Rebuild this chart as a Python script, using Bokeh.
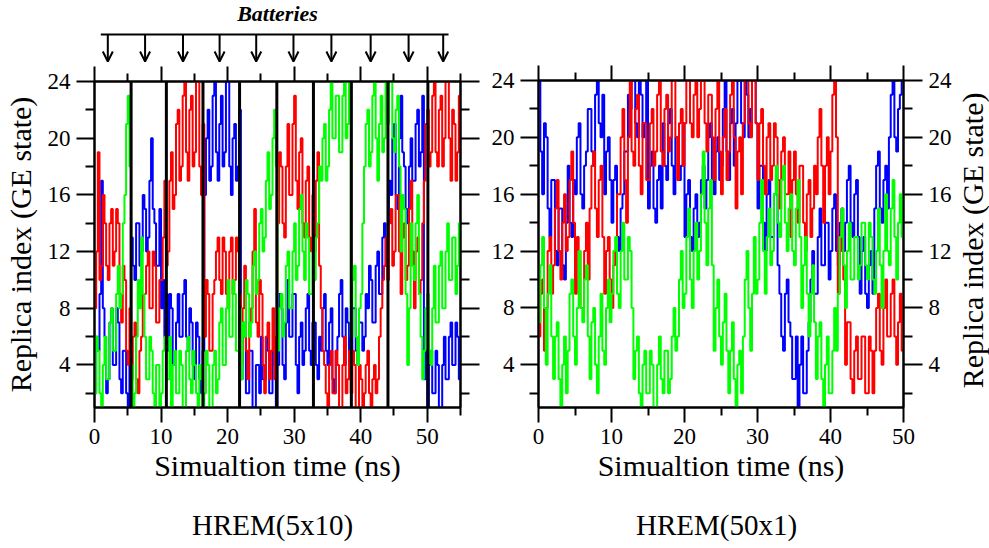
import numpy as np
from bokeh.plotting import figure
from bokeh.layouts import row, column
from bokeh.models import (LinearAxis, FixedTicker, Range1d, Span, Arrow,
                          OpenHead, Label, CustomLabelingPolicy)
from bokeh.embed import file_html
from bokeh.resources import INLINE

# ---------------- data ----------------
dt = 0.25  # ns between samples

# HREM(5x10): 10 batteries x 22 samples (0 .. 54.75 ns)
left_red = [8, 12, 19, 10, 11, 16, 14, 11, 10, 14, 15, 11, 12, 15, 14, 9, 7, 11, 10, 5, 4, 8,
            3, 6, 7, 3, 2, 5, 6, 9, 9, 11, 12, 8, 8, 12, 11, 7, 7, 10, 10, 13, 17, 11,
            12, 17, 19, 15, 16, 21, 22, 17, 18, 23, 24, 19, 17, 22, 23, 18, 19, 24, 24, 18, 16, 21,
            6, 10, 9, 5, 5, 9, 10, 12, 13, 10, 9, 13, 12, 9, 8, 12, 13, 9, 10, 13, 12, 9,
            4, 8, 11, 5, 3, 7, 8, 12, 15, 7, 6, 10, 9, 4, 2, 6, 7, 3, 5, 8, 3, 6,
            14, 19, 18, 14, 13, 18, 21, 16, 16, 21, 23, 17, 15, 19, 20, 14, 13, 17, 18, 13, 12, 16,
            12, 17, 19, 11, 8, 5, 4, 2, 1, 4, 5, 2, 2, 5, 4, 1, 1, 4, 6, 2, 3, 5,
            2, 5, 4, 1, 1, 4, 3, 1, 2, 4, 5, 2, 1, 3, 4, 2, 3, 6, 8, 10, 11, 13,
            10, 14, 15, 11, 12, 16, 16, 12, 9, 13, 14, 10, 11, 15, 17, 12, 8, 12, 13, 9, 10, 14,
            17, 21, 22, 18, 19, 23, 24, 19, 18, 22, 23, 18, 20, 24, 24, 20, 17, 22, 21, 17, 19, 23]
left_blue = [2, 6, 5, 9, 17, 8, 6, 2, 3, 7, 8, 4, 4, 8, 7, 3, 2, 5, 5, 2, 1, 4,
             13, 11, 10, 14, 14, 11, 12, 16, 15, 12, 13, 17, 20, 15, 14, 11, 11, 15, 8, 10, 6, 9,
             5, 9, 8, 4, 4, 7, 9, 6, 6, 9, 10, 6, 5, 8, 7, 4, 3, 7, 6, 3, 2, 5,
             16, 20, 22, 17, 18, 23, 24, 19, 17, 21, 23, 18, 19, 24, 24, 18, 16, 20, 21, 17, 18, 22,
             3, 7, 6, 2, 2, 5, 5, 1, 1, 4, 4, 2, 6, 3, 3, 6, 5, 2, 2, 5, 4, 1,
             4, 9, 8, 4, 3, 7, 10, 6, 6, 9, 9, 4, 2, 6, 7, 4, 5, 8, 9, 5, 4, 7,
             7, 4, 3, 6, 5, 8, 9, 5, 4, 7, 8, 3, 2, 5, 6, 9, 10, 6, 4, 8, 7, 4,
             5, 8, 8, 5, 4, 7, 7, 5, 6, 9, 8, 11, 10, 7, 7, 11, 12, 9, 9, 13, 14, 11,
             13, 17, 16, 20, 21, 16, 15, 20, 23, 19, 18, 15, 14, 18, 20, 17, 17, 21, 22, 18, 19, 23,
             3, 5, 1, 4, 5, 2, 2, 5, 4, 1, 1, 4, 6, 3, 3, 6, 7, 4, 4, 7, 6, 3]
left_green = [2, 6, 5, 2, 1, 4, 6, 3, 3, 7, 8, 5, 5, 9, 11, 8, 9, 14, 16, 21, 23, 18,
              4, 1, 2, 6, 10, 8, 13, 9, 6, 3, 3, 6, 5, 2, 1, 4, 4, 1, 2, 5, 6, 3,
              3, 6, 1, 4, 5, 2, 2, 5, 4, 1, 1, 5, 6, 3, 2, 5, 4, 2, 1, 4, 3, 1,
              2, 5, 4, 1, 1, 4, 5, 2, 3, 7, 8, 4, 4, 8, 10, 6, 6, 10, 9, 5, 5, 8,
              3, 7, 6, 10, 9, 6, 7, 11, 12, 9, 10, 14, 15, 12, 13, 17, 19, 15, 16, 20, 22, 18,
              5, 8, 9, 6, 7, 11, 12, 8, 8, 12, 14, 10, 11, 15, 16, 12, 10, 14, 13, 9, 9, 12,
              10, 13, 14, 18, 17, 20, 21, 17, 18, 22, 24, 20, 20, 23, 23, 19, 19, 23, 24, 20, 21, 24,
              6, 10, 11, 6, 4, 8, 9, 14, 18, 21, 22, 18, 19, 23, 24, 20, 17, 21, 23, 19, 20, 24,
              21, 24, 24, 20, 19, 22, 23, 18, 12, 16, 15, 9, 4, 8, 14, 11, 10, 14, 16, 9, 6, 3,
              5, 8, 9, 5, 4, 8, 11, 7, 7, 11, 12, 8, 8, 12, 14, 10, 10, 13, 13, 9, 11, 14]

# HREM(50x1): 200 samples (0 .. 49.75 ns)
right_blue = [24, 19, 16, 21, 20, 15, 13, 17, 17, 12, 11, 15, 15, 11, 10, 14, 18, 14, 13, 17,
              16, 20, 21, 16, 15, 18, 19, 22, 22, 19, 18, 23, 24, 21, 20, 23, 16, 19, 20, 17,
              14, 17, 18, 13, 12, 15, 16, 19, 19, 23, 22, 24, 24, 21, 20, 24, 23, 20, 21, 24,
              15, 18, 19, 15, 14, 17, 18, 15, 21, 18, 17, 21, 22, 18, 16, 20, 20, 17, 18, 21,
              13, 16, 17, 13, 12, 15, 16, 13, 14, 17, 18, 15, 17, 20, 21, 17, 16, 19, 20, 17,
              18, 22, 24, 19, 17, 21, 22, 18, 21, 24, 24, 21, 20, 24, 23, 20, 22, 24, 24, 21,
              15, 18, 18, 14, 12, 16, 17, 13, 13, 16, 16, 11, 9, 6, 5, 9, 10, 7, 6, 3,
              3, 6, 1, 4, 6, 2, 2, 5, 7, 10, 12, 9, 9, 13, 15, 11, 11, 14, 14, 10,
              12, 15, 16, 12, 11, 14, 15, 12, 14, 17, 18, 14, 13, 16, 17, 13, 9, 12, 13, 9,
              8, 11, 12, 9, 15, 18, 19, 15, 14, 17, 18, 15, 20, 23, 24, 20, 19, 22, 23, 24]
right_red = [6, 9, 10, 5, 8, 12, 13, 9, 11, 15, 17, 12, 10, 14, 16, 12, 13, 17, 19, 14,
             9, 13, 12, 8, 8, 12, 14, 10, 15, 18, 19, 15, 13, 17, 18, 13, 9, 12, 13, 10,
             8, 11, 12, 16, 16, 20, 22, 17, 14, 20, 24, 19, 18, 22, 23, 18, 16, 21, 21, 17,
             17, 21, 22, 18, 19, 23, 24, 19, 18, 22, 23, 19, 20, 24, 24, 20, 17, 21, 22, 18,
             21, 24, 24, 21, 20, 23, 24, 20, 22, 24, 24, 21, 19, 23, 23, 20, 17, 22, 24, 19,
             16, 20, 22, 17, 19, 23, 24, 20, 15, 19, 20, 16, 21, 24, 24, 21, 20, 24, 24, 21,
             17, 21, 22, 18, 16, 20, 21, 17, 18, 21, 20, 17, 15, 19, 20, 16, 16, 19, 13, 17,
             19, 16, 14, 18, 18, 14, 12, 16, 17, 13, 15, 18, 16, 20, 22, 18, 14, 18, 20, 16,
             19, 23, 24, 20, 9, 12, 14, 10, 4, 7, 7, 3, 2, 5, 6, 3, 3, 6, 6, 2,
             2, 6, 5, 2, 5, 8, 9, 5, 4, 8, 10, 6, 6, 9, 10, 6, 4, 7, 9, 5]
right_green = [7, 11, 13, 8, 4, 9, 11, 6, 3, 6, 7, 3, 1, 4, 6, 2, 5, 9, 10, 6,
               4, 8, 12, 8, 7, 10, 11, 6, 3, 7, 8, 4, 2, 6, 9, 5, 4, 8, 10, 7,
               9, 12, 13, 9, 8, 12, 14, 10, 10, 13, 12, 8, 3, 5, 6, 2, 1, 4, 5, 2,
               2, 5, 4, 1, 1, 4, 6, 3, 2, 5, 5, 2, 3, 6, 8, 5, 6, 10, 12, 8,
               9, 13, 15, 10, 8, 12, 14, 10, 12, 16, 19, 14, 11, 15, 17, 11, 5, 8, 10, 6,
               4, 7, 9, 5, 2, 5, 7, 3, 1, 4, 5, 2, 6, 10, 12, 8, 5, 9, 13, 9,
               10, 14, 17, 12, 9, 13, 15, 11, 12, 16, 18, 14, 13, 17, 18, 14, 12, 15, 16, 12,
               11, 15, 17, 13, 8, 11, 13, 9, 6, 9, 11, 7, 3, 6, 7, 3, 1, 4, 6, 2,
               2, 5, 8, 5, 9, 13, 15, 11, 8, 12, 14, 10, 10, 13, 13, 10, 11, 14, 14, 11,
               10, 14, 13, 10, 9, 12, 15, 11, 8, 12, 16, 12, 11, 15, 17, 13, 10, 14, 16, 13]

battery_bounds = [5.5, 10.8, 16.3, 21.8, 27.4, 32.9, 38.6, 44.1, 50.1]
arrow_times = [2.0, 7.6, 13.3, 18.8, 24.3, 29.9, 35.6, 41.5, 47.2, 52.4]
bracket_span = (0.95, 53.2)
panel_titles = ["HREM(5x10)", "HREM(50x1)"]

y_major = [4, 8, 12, 16, 20, 24]
y_minor = [2, 6, 10, 14, 18, 22]
x_major = [0, 10, 20, 30, 40, 50]

RED, BLUE, GREEN = "#ff0000", "#0000ff", "#00ff00"
FONT = "Liberation Serif"
TICK_FS = "23px"
LABEL_FS = "30px"
YLABEL = "Replica index (GE state)"

W, H = 989, 548
FOOT_H = 50          # strip holding the panel titles
HEADER_H = 62        # strip holding the "Batteries" header
MAIN_H = H - FOOT_H
FRAME_TOP, FRAME_BOTTOM = 80, 407
LEFT_W, RLABEL_W = 488, 34
RIGHT_W = W - LEFT_W - RLABEL_W

NO_LABELS = CustomLabelingPolicy(
    code="for (const i of indices) { indices.unset(i) }\nreturn indices")


def series(vals, t_end):
    t = list(np.arange(len(vals)) * dt) + [t_end]
    return t, list(vals) + [vals[-1]]


def style_axis(ax, major_out, minor_out, labels=True):
    ax.axis_line_width = 2
    ax.axis_line_color = "black"
    ax.major_tick_line_width = 2
    ax.minor_tick_line_width = 2
    ax.major_tick_in = 0
    ax.minor_tick_in = 0
    ax.major_tick_out = major_out
    ax.minor_tick_out = minor_out
    ax.major_label_text_font = FONT
    ax.major_label_text_color = "black"
    if labels:
        ax.major_label_text_font_size = TICK_FS
        ax.major_label_standoff = 6
    else:
        ax.major_label_text_font_size = "1px"
        ax.major_label_policy = NO_LABELS
        ax.major_label_standoff = 0


def make_panel(width, height, border_left, border_right, border_top, x_end,
               x_minor, data, y_title, right_labels):
    p = figure(width=width, height=height, output_backend="svg",
               toolbar_location=None, x_axis_location=None,
               y_axis_location=None,
               x_range=Range1d(0, x_end), y_range=Range1d(1, 24),
               min_border_left=border_left, min_border_right=border_right,
               min_border_top=border_top,
               min_border_bottom=MAIN_H - FRAME_BOTTOM)
    p.grid.visible = False
    p.outline_line_color = "black"
    p.outline_line_width = 2
    p.background_fill_color = "white"
    p.border_fill_color = "white"

    xt = FixedTicker(ticks=x_major, minor_ticks=x_minor)
    yt = FixedTicker(ticks=y_major, minor_ticks=y_minor)

    bottom = LinearAxis(ticker=xt, axis_label="Simualtion time (ns)")
    style_axis(bottom, 15, 8)
    bottom.axis_label_text_font = FONT
    bottom.axis_label_text_font_size = LABEL_FS
    bottom.axis_label_text_font_style = "normal"
    bottom.axis_label_text_color = "black"
    bottom.axis_label_standoff = 2
    p.add_layout(bottom, "below")

    top = LinearAxis(ticker=xt)
    style_axis(top, 15, 8, labels=False)
    p.add_layout(top, "above")

    left = LinearAxis(ticker=yt)
    style_axis(left, 18, 9)
    if y_title:
        left.axis_label = YLABEL
        left.axis_label_text_font = FONT
        left.axis_label_text_font_size = LABEL_FS
        left.axis_label_text_font_style = "normal"
        left.axis_label_text_color = "black"
        left.axis_label_standoff = 8
    p.add_layout(left, "left")

    right = LinearAxis(ticker=yt)
    style_axis(right, 19, 9, labels=right_labels)
    p.add_layout(right, "right")

    for vals, col in data:
        t, v = series(vals, x_end)
        p.step(t, v, mode="after", line_color=col, line_width=2.0)
    return p


def strip(width, height, x_range, y_range, border_left=0, border_right=0):
    s = figure(width=width, height=height, output_backend="svg",
               toolbar_location=None, x_range=x_range, y_range=y_range,
               min_border_left=border_left, min_border_right=border_right,
               min_border_top=0, min_border_bottom=0,
               x_axis_location=None, y_axis_location=None)
    s.grid.visible = False
    s.outline_line_color = None
    return s


p1 = make_panel(LEFT_W, MAIN_H - HEADER_H, 93, 28, FRAME_TOP - HEADER_H, 55,
                [5, 15, 25, 35, 45, 55],
                [(left_blue, BLUE), (left_red, RED), (left_green, GREEN)],
                True, False)
for b in battery_bounds:
    p1.add_layout(Span(location=b, dimension="height", line_color="black",
                       line_width=3))

# header strip above the left panel (shares its time axis)
hdr = strip(LEFT_W, HEADER_H, p1.x_range, Range1d(HEADER_H, 0), 93, 28)
hdr.segment(x0=[bracket_span[0]], x1=[bracket_span[1]], y0=[34], y1=[34],
            line_color="black", line_width=2)
for a in arrow_times:
    hdr.add_layout(Arrow(end=OpenHead(size=10, line_width=2,
                                      line_color="black"),
                         x_start=a, y_start=34, x_end=a, y_end=HEADER_H - 1,
                         line_color="black", line_width=2))
hdr.add_layout(Label(x=27.5, y=13, text="Batteries", text_font=FONT,
                     text_font_size="22px", text_font_style="bold italic",
                     text_color="black",
                     text_align="center", text_baseline="middle"))

p2 = make_panel(RIGHT_W, MAIN_H, 48, 52, FRAME_TOP, 50, [5, 15, 25, 35, 45],
                [(right_blue, BLUE), (right_red, RED), (right_green, GREEN)],
                False, True)

# strip to the right of the right panel holding its y-axis title
rl = strip(RLABEL_W, MAIN_H, Range1d(0, 1), Range1d(MAIN_H, 0))
rl.add_layout(Label(x=0.5, y=(FRAME_TOP + FRAME_BOTTOM) / 2, text=YLABEL,
                    angle=np.pi / 2, text_font=FONT,
                    text_font_size=LABEL_FS, text_align="center",
                    text_baseline="middle", text_color="black"))

# footer strip with the two panel titles (pixel coordinates)
foot = strip(W, FOOT_H, Range1d(0, W), Range1d(FOOT_H, 0))
for title, xc in zip(panel_titles, [272, 716]):
    foot.add_layout(Label(x=xc, y=26, text=title, text_font=FONT,
                          text_font_size="29px", text_color="black",
                          text_align="center", text_baseline="middle"))

layout = column(row(column(hdr, p1, spacing=0), p2, rl, spacing=0), foot,
                spacing=0)
open("out.html", "w").write(file_html(layout, INLINE))
